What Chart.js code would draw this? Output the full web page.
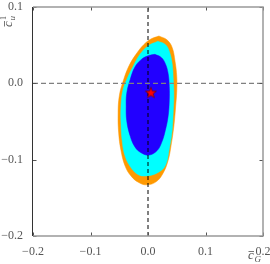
<!DOCTYPE html>
<html>
<head>
<meta charset="utf-8">
<script src="https://cdn.jsdelivr.net/npm/chart.js@4.4.0/dist/chart.umd.min.js"></script>
<style>
  html, body { margin: 0; padding: 0; background: #fff; }
  #wrap { width: 270px; height: 264px; }
</style>
</head>
<body>
<div id="wrap"><canvas id="chart" width="270" height="264"></canvas></div>
<script>
// ===== DATA =====

const xTicks = [-0.2, -0.1, 0.0, 0.1, 0.2];
const yTicks = [-0.2, -0.1, 0.0, 0.1];

// outer contour (orange)
const orangeX = [0.019, 0.033, 0.042, 0.047, 0.050, 0.050, 0.048, 0.045, 0.040, 0.035, 0.026, 0.014, -0.002, -0.016, -0.030, -0.040, -0.047, -0.051, -0.052, -0.050, -0.044, -0.033, -0.019, -0.007, 0.005];
const orangeY = [0.062, 0.057, 0.047, 0.029, 0.009, -0.010, -0.031, -0.056, -0.082, -0.101, -0.118, -0.129, -0.133, -0.130, -0.121, -0.108, -0.088, -0.065, -0.039, -0.017, 0.001, 0.023, 0.040, 0.051, 0.058];

// middle contour (cyan)
const cyanX = [0.017, 0.030, 0.037, 0.042, 0.044, 0.045, 0.044, 0.042, 0.037, 0.030, 0.017, 0.000, -0.016, -0.030, -0.040, -0.045, -0.047, -0.047, -0.044, -0.037, -0.026, -0.014, 0.000];
const cyanY = [0.055, 0.051, 0.042, 0.026, 0.005, -0.017, -0.036, -0.062, -0.086, -0.108, -0.117, -0.121, -0.120, -0.110, -0.095, -0.075, -0.052, -0.030, -0.010, 0.005, 0.022, 0.038, 0.049];

// inner contour (blue)
const blueX = [0.012, 0.023, 0.030, 0.035, 0.037, 0.037, 0.035, 0.030, 0.024, 0.016, 0.002, -0.012, -0.023, -0.031, -0.037, -0.038, -0.037, -0.031, -0.023, -0.012, 0.000];
const blueY = [0.038, 0.034, 0.026, 0.013, -0.004, -0.023, -0.043, -0.062, -0.077, -0.088, -0.094, -0.091, -0.083, -0.069, -0.049, -0.030, -0.013, 0.005, 0.021, 0.031, 0.036];

// best fit point
const bestX = [0.005];
const bestY = [-0.012];

// ===== HELPERS =====

function closedPath(xs, ys) {
    const pts = xs.map((x, i) => ({ x: x, y: ys[i] }));
    pts.push({ x: xs[0], y: ys[0] });
    return pts;
}

function fmt(v) {
    if (Math.abs(v) < 1e-9) v = 0;
    return v.toFixed(1).replace('-', '\u2212');
}

function makeStar() {
    const c = document.createElement('canvas');
    c.width = 14; c.height = 14;
    const g = c.getContext('2d');
    g.beginPath();
    for (let i = 0; i < 10; i++) {
        const r = i % 2 === 0 ? 5.8 : 2.4;
        const a = -Math.PI / 2 + i * Math.PI / 5;
        const px = 7 + r * Math.cos(a), py = 7.5 + r * Math.sin(a);
        if (i === 0) g.moveTo(px, py); else g.lineTo(px, py);
    }
    g.closePath();
    g.fillStyle = '#ff0000';
    g.fill();
    g.lineWidth = 0.7;
    g.strokeStyle = '#700000';
    g.stroke();
    return c;
}

function contourSet(pts, color, order) {
    return {
        data: pts,
        backgroundColor: color,
        borderColor: color,
        borderWidth: 0.5,
        fill: 'shape',
        tension: 0.4,
        pointRadius: 0,
        order: order
    };
}

// ===== FRAME / TITLES =====

const framePlugin = {
    id: 'frame',
    afterDraw(chart) {
        const ctx = chart.ctx;
        const a = chart.chartArea;
        const xs = chart.scales.x, ys = chart.scales.y;
        ctx.save();

        // ticks on all sides, pointing in
        ctx.strokeStyle = '#555';
        ctx.lineWidth = 1;
        xTicks.forEach(v => {
            const px = Math.round(xs.getPixelForValue(v)) + 0.5;
            ctx.beginPath();
            ctx.moveTo(px, a.bottom); ctx.lineTo(px, a.bottom - 3.5);
            ctx.moveTo(px, a.top); ctx.lineTo(px, a.top + 3.5);
            ctx.stroke();
        });
        yTicks.forEach(v => {
            const py = Math.round(ys.getPixelForValue(v)) + 0.5;
            ctx.beginPath();
            ctx.moveTo(a.left, py); ctx.lineTo(a.left + 3.5, py);
            ctx.moveTo(a.right, py); ctx.lineTo(a.right - 3.5, py);
            ctx.stroke();
        });

        // spines
        ctx.strokeStyle = '#999';
        ctx.lineWidth = 1.5;
        ctx.beginPath();
        ctx.moveTo(a.left, a.top); ctx.lineTo(a.right, a.top);
        ctx.lineTo(a.right, a.bottom); ctx.lineTo(a.left, a.bottom);
        ctx.stroke();
        ctx.strokeStyle = '#333';
        ctx.lineWidth = 1;
        ctx.beginPath();
        ctx.moveTo(a.left - 0.5, a.top); ctx.lineTo(a.left - 0.5, a.bottom);
        ctx.stroke();

        // x title: c-bar sub G
        ctx.fillStyle = '#555';
        ctx.strokeStyle = '#555';
        ctx.textBaseline = 'alphabetic';
        ctx.font = 'italic 13px "Liberation Serif"';
        ctx.fillText('c', 248, 259);
        ctx.lineWidth = 0.8;
        ctx.beginPath(); ctx.moveTo(248.5, 251.5); ctx.lineTo(254, 251.5); ctx.stroke();
        ctx.font = 'italic 9px "Liberation Serif"';
        ctx.fillText('G', 254.5, 262);

        // y title: c-bar sub u sup 1, rotated
        ctx.translate(12, 27);
        ctx.rotate(-Math.PI / 2);
        ctx.font = 'italic 13px "Liberation Serif"';
        ctx.fillText('c', 0, 0);
        ctx.beginPath(); ctx.moveTo(0.5, -7.5); ctx.lineTo(6, -7.5); ctx.stroke();
        ctx.font = 'italic 9px "Liberation Serif"';
        ctx.fillText('u', 6.5, 3);
        ctx.font = '8px "Liberation Serif"';
        ctx.fillText('1', 7, -6);
        ctx.restore();
    }
};

// ===== CHART =====

const tickFont = { family: '"Liberation Serif"', size: 12 };

new Chart(document.getElementById('chart'), {
    type: 'line',
    data: {
        datasets: [
            contourSet(closedPath(orangeX, orangeY), '#ff9900', 6),
            contourSet(closedPath(cyanX, cyanY), '#00ffff', 5),
            contourSet(closedPath(blueX, blueY), '#2200ff', 4),
            {
                data: [{ x: xTicks[0], y: 0 }, { x: xTicks[xTicks.length - 1], y: 0 }],
                borderColor: '#808080',
                borderWidth: 1.3,
                borderDash: [5, 3],
                pointRadius: 0,
                fill: false,
                order: 3
            },
            {
                data: [{ x: 0, y: yTicks[0] }, { x: 0, y: yTicks[yTicks.length - 1] }],
                borderColor: '#000',
                borderWidth: 1,
                borderDash: [4, 3],
                pointRadius: 0,
                fill: false,
                order: 2
            },
            {
                data: bestX.map((x, i) => ({ x: x, y: bestY[i] })),
                showLine: false,
                pointStyle: makeStar(),
                pointRadius: 6,
                order: 1
            }
        ]
    },
    options: {
        responsive: false,
        animation: false,
        devicePixelRatio: 1,
        layout: { padding: { left: 0, top: 5, right: 7, bottom: 0 } },
        plugins: { legend: { display: false }, tooltip: { enabled: false } },
        scales: {
            x: {
                type: 'linear',
                min: xTicks[0],
                max: xTicks[xTicks.length - 1],
                afterBuildTicks: s => { s.ticks = xTicks.map(v => ({ value: v })); },
                afterFit: s => { s.height = 28; s.paddingLeft = 0; s.paddingRight = 0; },
                grid: { display: false },
                border: { display: false },
                ticks: { font: tickFont, color: '#555', padding: 1, maxRotation: 0, callback: v => fmt(v) }
            },
            y: {
                type: 'linear',
                min: yTicks[0],
                max: yTicks[yTicks.length - 1],
                afterBuildTicks: s => { s.ticks = yTicks.map(v => ({ value: v })); },
                afterFit: s => { s.width = 33; s.paddingTop = 0; s.paddingBottom = 0; },
                grid: { display: false },
                border: { display: false },
                ticks: { font: tickFont, color: '#555', padding: 2, callback: v => fmt(v) }
            }
        }
    },
    plugins: [framePlugin]
});
</script>
</body>
</html>
